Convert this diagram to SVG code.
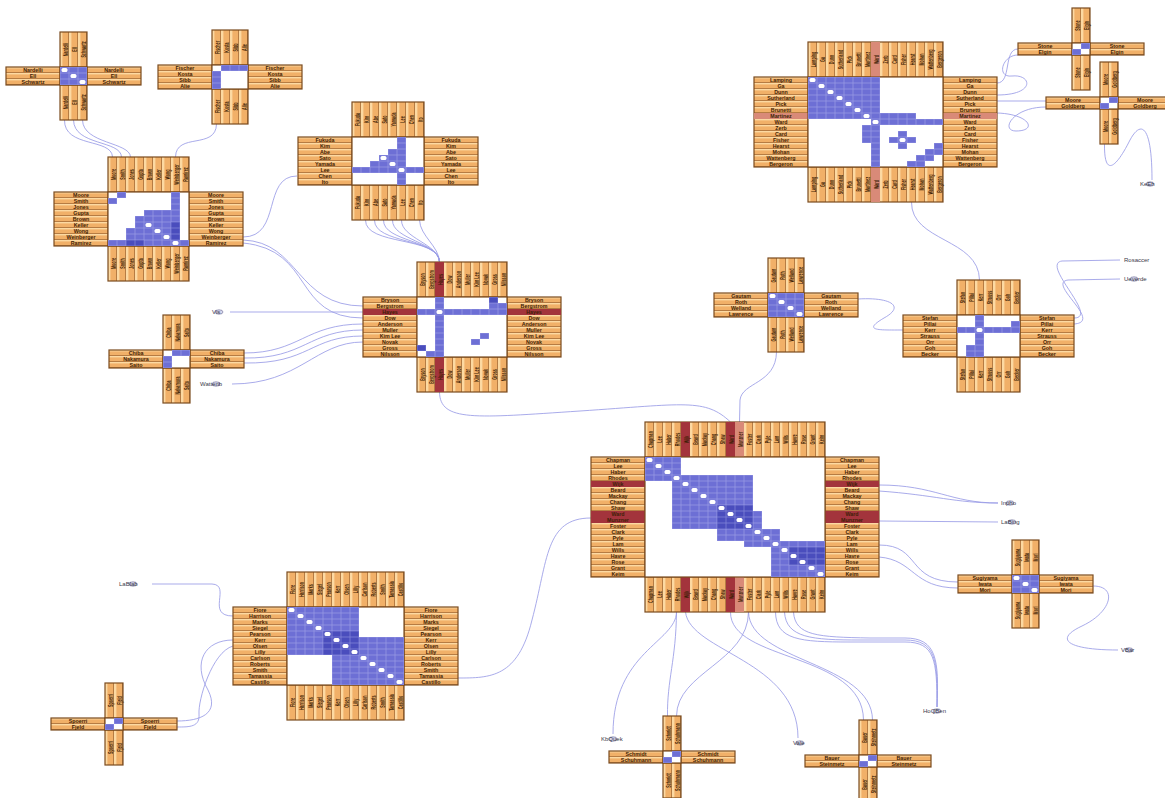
<svg xmlns="http://www.w3.org/2000/svg" xmlns:xlink="http://www.w3.org/1999/xlink" width="1165" height="798" viewBox="0 0 1165 798">
<style>
.ah{fill:url(#ph);stroke:#7b4b1f;stroke-width:1.2}
.av{fill:url(#pv);stroke:#7b4b1f;stroke-width:1.2}
.mx{fill:#fff;stroke:#7b4b1f;stroke-width:1.2}
.c{fill:url(#pc)}
.k{fill:url(#pk)}
.d{fill:#fff}
.rr{fill:#a3343c}
.rs{fill:#d98a78}
.lb{font-family:"Liberation Sans",Arial,sans-serif;font-size:5.3px;font-weight:bold;fill:#3e1f06;text-anchor:middle}
.e{fill:none;stroke:#9a9ce6;stroke-width:0.85}
.fl{font-family:"Liberation Sans",Arial,sans-serif;font-size:6px;fill:#3a3a4a}
.fe{fill:#d8d8ee;stroke:#6a6a90;stroke-width:0.6}
</style>
<defs>
<pattern id="ph" width="9" height="6" patternUnits="userSpaceOnUse"><rect width="9" height="6" fill="#f1b068"/><rect width="9" height="1.4" fill="#fcd9a2"/><rect y="5.4" width="9" height="0.6" fill="#8f5a2a"/></pattern>
<pattern id="pv" width="9" height="6" patternUnits="userSpaceOnUse"><rect width="9" height="6" fill="#f1b068"/><rect width="2.4" height="6" fill="#fcd9a2"/><rect x="8.4" width="0.6" height="6" fill="#8f5a2a"/></pattern>
<pattern id="pc" width="9" height="6" patternUnits="userSpaceOnUse"><rect width="9" height="6" fill="#9597e3"/><rect x="0.4" y="0.4" width="8.2" height="5.2" fill="#6d6fd5"/></pattern>
<pattern id="pk" width="9" height="6" patternUnits="userSpaceOnUse"><rect width="9" height="6" fill="#7f82d8"/><rect x="0.4" y="0.4" width="8.2" height="5.2" fill="#4a4dbd"/></pattern>
<g id="LA"><text y="5.1">Nardelli</text><text y="11.1">Ell</text><text y="17.1">Schwartz</text></g>
<g id="LB"><text y="5.1">Fischer</text><text y="11.1">Kosta</text><text y="17.1">Sibb</text><text y="23.1">Alie</text></g>
<g id="LC"><text y="5.1">Moore</text><text y="11.1">Smith</text><text y="17.1">Jones</text><text y="23.1">Gupta</text><text y="29.1">Brown</text><text y="35.1">Keller</text><text y="41.1">Wong</text><text y="47.1">Weinberger</text><text y="53.1">Ramirez</text></g>
<g id="LD"><text y="5.1">Fukuda</text><text y="11.1">Kim</text><text y="17.1">Abe</text><text y="23.1">Sato</text><text y="29.1">Yamada</text><text y="35.1">Lee</text><text y="41.1">Chen</text><text y="47.1">Ito</text></g>
<g id="LE"><text y="5.1">Bryson</text><text y="11.1">Bergstrom</text><text y="17.1">Hayes</text><text y="23.1">Dow</text><text y="29.1">Anderson</text><text y="35.1">Muller</text><text y="41.1">Kim Lee</text><text y="47.1">Novak</text><text y="53.1">Gross</text><text y="59.1">Nilsson</text></g>
<g id="LF"><text y="5.1">Chiba</text><text y="11.1">Nakamura</text><text y="17.1">Saito</text></g>
<g id="LG"><text y="5.1">Lamping</text><text y="11.1">Ga</text><text y="17.1">Dunn</text><text y="23.1">Sutherland</text><text y="29.1">Pick</text><text y="35.1">Brunetti</text><text y="41.1">Martinez</text><text y="47.1">Ward</text><text y="53.1">Zerb</text><text y="59.1">Card</text><text y="65.1">Fisher</text><text y="71.1">Hearst</text><text y="77.1">Mohan</text><text y="83.1">Wattenberg</text><text y="89.1">Bergeron</text></g>
<g id="LH1"><text y="5.1">Stone</text><text y="11.1">Elgin</text></g>
<g id="LH2"><text y="5.1">Moore</text><text y="11.1">Goldberg</text></g>
<g id="LI"><text y="5.1">Gautam</text><text y="11.1">Roth</text><text y="17.1">Welland</text><text y="23.1">Lawrence</text></g>
<g id="LJ"><text y="5.1">Stefan</text><text y="11.1">Pillai</text><text y="17.1">Kerr</text><text y="23.1">Strauss</text><text y="29.1">Orr</text><text y="35.1">Goh</text><text y="41.1">Becker</text></g>
<g id="LK"><text y="5.1">Chapman</text><text y="11.1">Lee</text><text y="17.1">Haber</text><text y="23.1">Rhodes</text><text y="29.1">Wijk</text><text y="35.1">Beard</text><text y="41.1">Mackay</text><text y="47.1">Chang</text><text y="53.1">Shaw</text><text y="59.1">Ward</text><text y="65.1">Munzner</text><text y="71.1">Foster</text><text y="77.1">Clark</text><text y="83.1">Pyle</text><text y="89.1">Lam</text><text y="95.1">Wills</text><text y="101.1">Havre</text><text y="107.1">Rose</text><text y="113.1">Grant</text><text y="119.1">Keim</text></g>
<g id="LL"><text y="5.1">Fiore</text><text y="11.1">Harrison</text><text y="17.1">Marks</text><text y="23.1">Siegel</text><text y="29.1">Pearson</text><text y="35.1">Kerr</text><text y="41.1">Olsen</text><text y="47.1">Lilly</text><text y="53.1">Carlson</text><text y="59.1">Roberts</text><text y="65.1">Smith</text><text y="71.1">Tamassia</text><text y="77.1">Castillo</text></g>
<g id="LM"><text y="5.1">Spoerri</text><text y="11.1">Fjeld</text></g>
<g id="LN"><text y="5.1">Schmidt</text><text y="11.1">Schuhmann</text></g>
<g id="LO"><text y="5.1">Bauer</text><text y="11.1">Steinmetz</text></g>
<g id="LP"><text y="5.1">Sugiyama</text><text y="11.1">Iwata</text><text y="17.1">Mori</text></g>
</defs>
<rect width="1165" height="798" fill="#fff"/>
<g id="edges">
<path class="e" d="M64.5,120 C64,148 112,138 112.5,157"/>
<path class="e" d="M73.5,120 C74,146 121,140 121.5,157"/>
<path class="e" d="M82.5,120 C83,144 130,142 130.5,157"/>
<path class="e" d="M216.5,124 C216,150 176,132 175.5,157"/>
<path class="e" d="M243,237 C282,237 262,176 297,176"/>
<path class="e" d="M243,240 C300,242 296,306 363,306"/>
<path class="e" d="M243,243 C315,250 292,318 363,318"/>
<path class="e" d="M365.5,220 C365,246 439,236 439.5,262"/>
<path class="e" d="M374.5,220 C374,244 439,238 439.5,262"/>
<path class="e" d="M383.5,220 C383,242 439,240 439.5,262"/>
<path class="e" d="M392.5,220 C392,240 439,242 439.5,262"/>
<path class="e" d="M401.5,220 C401,238 439,244 439.5,262"/>
<path class="e" d="M419.5,220 C420,236 439,246 439.5,262"/>
<path class="e" d="M230,312 L363,312"/>
<path class="e" d="M244,353 C300,353 305,324 363,324"/>
<path class="e" d="M244,358 C305,359 308,330 363,330"/>
<path class="e" d="M244,363 C310,364 310,336 363,336"/>
<path class="e" d="M232,384 C300,384 315,342 363,342"/>
<path class="e" d="M439.5,392 C440,422 475,418 580,411 S705,398 730.5,422"/>
<path class="e" d="M776.5,352 C776,384 742,382 740,400 L739.5,422"/>
<path class="e" d="M858,299 C890,297 906,306 884,318 C862,331 878,330 903,330"/>
<path class="e" d="M911.5,202 C911,242 979,238 979.5,280"/>
<path class="e" d="M997,83 C1012,83 1003,49 1018,49"/>
<path class="e" d="M997,95 C1036,95 1032,74 1012,76 C996,78 1002,55 1018,55"/>
<path class="e" d="M997,101 L1046,101"/>
<path class="e" d="M997,113 C1030,114 1038,131 1016,131 C1000,131 1012,107 1046,107"/>
<path class="e" d="M1104.5,144 C1104,178 1116,168 1130,140 C1142,118 1152,128 1152,180"/>
<path class="e" d="M1074,318 C1100,318 1040,264 1062,261 L1120,260"/>
<path class="e" d="M1074,324 C1104,322 1046,283 1068,280 L1120,279"/>
<path class="e" d="M591,518 C545,518 548,560 532,620 C518,678 490,678 458,678"/>
<path class="e" d="M879,485 C935,485 950,503 998,503"/>
<path class="e" d="M879,491 C935,495 955,503 998,503"/>
<path class="e" d="M879,521 L998,522"/>
<path class="e" d="M879,545 C922,545 905,582 958,582"/>
<path class="e" d="M879,557 C915,560 912,588 958,588"/>
<path class="e" d="M1093,586 C1118,586 1112,612 1082,626 C1052,640 1070,650 1118,650"/>
<path class="e" d="M676.5,612 C676,660 667,680 667.5,716"/>
<path class="e" d="M676.5,612 C676,642 613,652 613,734"/>
<path class="e" d="M685.5,612 C690,652 798,660 798,738"/>
<path class="e" d="M730.5,612 C730,662 863,652 863.5,720"/>
<path class="e" d="M748.5,612 C750,662 872,662 872.5,720"/>
<path class="e" d="M748.5,612 C748,662 677,672 676.5,716"/>
<path class="e" d="M775.5,612 C776,640 800,642 850,642 L905,642 C935,642 937,660 937,707"/>
<path class="e" d="M784.5,612 C786,638 812,640 860,640 L905,640 C936,640 938,660 937,707"/>
<path class="e" d="M793.5,612 C795,636 818,637 870,638 L905,638 C937,638 939,660 937,707"/>
<path class="e" d="M233,616 C205,616 232,585 212,584 L152,584"/>
<path class="e" d="M233,640 C205,640 192,662 208,690 C220,714 200,721 177,721"/>
<path class="e" d="M233,646 C212,652 198,700 199,714 C200,727 190,727 177,727"/>
</g>
<g id="nA" transform="translate(60,67)">
<rect class="ah" x="-54" width="54" height="18"/><rect class="ah" x="27" width="54" height="18"/><rect class="av" y="-35" width="27" height="35"/><rect class="av" y="18" width="27" height="35"/>
<rect class="mx" width="27" height="18"/><rect class="c" width="27" height="18"/>
<rect class="d" x="1.5" y="1" width="6" height="4" rx="1.5"/><rect class="d" x="10.5" y="7" width="6" height="4" rx="1.5"/><rect class="d" x="19.5" y="13" width="6" height="4" rx="1.5"/>
<g class="lb"><use href="#LA" x="-27"/><use href="#LA" x="54"/><use href="#LA" transform="matrix(0,-.7,1.5,0,0,-17.5)"/><use href="#LA" transform="matrix(0,-.7,1.5,0,0,35.5)"/></g>
</g>
<g id="nB" transform="translate(212,65)">
<rect class="ah" x="-54" width="54" height="24"/><rect class="ah" x="36" width="54" height="24"/><rect class="av" y="-35" width="36" height="35"/><rect class="av" y="24" width="36" height="35"/>
<rect class="mx" width="36" height="24"/><rect class="c" x="9" width="27" height="6"/><rect class="c" y="6" width="9" height="18"/>
<g class="lb"><use href="#LB" x="-27"/><use href="#LB" x="63"/><use href="#LB" transform="matrix(0,-.7,1.5,0,0,-17.5)"/><use href="#LB" transform="matrix(0,-.7,1.5,0,0,41.5)"/></g>
</g>
<g id="nC" transform="translate(108,192)">
<rect class="ah" x="-54" width="54" height="54"/><rect class="ah" x="81" width="54" height="54"/><rect class="av" y="-35" width="81" height="35"/><rect class="av" y="54" width="81" height="35"/>
<rect class="mx" width="81" height="54"/>
<rect class="c" x="9" width="9" height="6"/><rect class="c" y="6" width="9" height="6"/><rect class="c" x="63" width="9" height="54"/>
<rect class="c" x="36" y="18" width="27" height="6"/><rect class="c" x="27" y="24" width="36" height="12"/><rect class="c" x="18" y="36" width="45" height="12"/><rect class="c" y="48" width="81" height="6"/>
<rect class="k" x="63" y="30" width="9" height="18"/><rect class="k" x="18" y="48" width="18" height="6"/>
<rect class="d" x="1.5" y="1" width="6" height="4" rx="1.5"/><rect class="d" x="37.5" y="31" width="6" height="4" rx="1.5"/><rect class="d" x="46.5" y="37" width="6" height="4" rx="1.5"/><rect class="d" x="55.5" y="43" width="6" height="4" rx="1.5"/><rect class="d" x="64.5" y="49" width="6" height="4" rx="1.5"/>
<g class="lb"><use href="#LC" x="-27"/><use href="#LC" x="108"/><use href="#LC" transform="matrix(0,-.7,1.5,0,0,-17.5)"/><use href="#LC" transform="matrix(0,-.7,1.5,0,0,71.5)"/></g>
</g>
<g id="nD" transform="translate(352,137)">
<rect class="ah" x="-54" width="54" height="48"/><rect class="ah" x="72" width="54" height="48"/><rect class="av" y="-35" width="72" height="35"/><rect class="av" y="48" width="72" height="35"/>
<rect class="mx" width="72" height="48"/>
<rect class="c" y="30" width="72" height="6"/><rect class="c" x="45" width="9" height="48"/><rect class="c" x="36" y="12" width="9" height="6"/><rect class="c" x="27" y="18" width="18" height="6"/><rect class="c" x="18" y="24" width="27" height="6"/>
<rect class="d" x="28.5" y="19" width="6" height="4" rx="1.5"/><rect class="d" x="37.5" y="25" width="6" height="4" rx="1.5"/><rect class="d" x="46.5" y="31" width="6" height="4" rx="1.5"/>
<g class="lb"><use href="#LD" x="-27"/><use href="#LD" x="99"/><use href="#LD" transform="matrix(0,-.7,1.5,0,0,-17.5)"/><use href="#LD" transform="matrix(0,-.7,1.5,0,0,65.5)"/></g>
</g>
<g id="nE" transform="translate(417,297)">
<rect class="ah" x="-54" width="54" height="60"/><rect class="ah" x="90" width="54" height="60"/><rect class="av" y="-35" width="90" height="35"/><rect class="av" y="60" width="90" height="35"/>
<rect class="rr" x="18" y="-35" width="9" height="35"/><rect class="rr" x="18" y="60" width="9" height="35"/><rect class="rr" x="-54" y="12" width="54" height="6"/><rect class="rr" x="90" y="12" width="54" height="6"/>
<rect class="mx" width="90" height="60"/>
<rect class="c" y="12" width="90" height="6"/><rect class="c" x="18" width="9" height="60"/><rect class="k" x="72" width="9" height="6"/><rect class="c" x="72" y="6" width="18" height="6"/><rect class="k" y="48" width="9" height="6"/><rect class="c" x="9" y="54" width="9" height="6"/><rect class="c" x="63" y="36" width="9" height="6"/><rect class="c" x="54" y="42" width="9" height="6"/>
<rect class="d" x="19.5" y="13" width="6" height="4" rx="1.5"/><rect class="d" x="1.5" y="55" width="6" height="4" rx="1.5"/>
<g class="lb"><use href="#LE" x="-27"/><use href="#LE" x="117"/><use href="#LE" transform="matrix(0,-.7,1.5,0,0,-17.5)"/><use href="#LE" transform="matrix(0,-.7,1.5,0,0,77.5)"/></g>
</g>
<g id="nF" transform="translate(163,350)">
<rect class="ah" x="-54" width="54" height="18"/><rect class="ah" x="27" width="54" height="18"/><rect class="av" y="-35" width="27" height="35"/><rect class="av" y="18" width="27" height="35"/>
<rect class="mx" width="27" height="18"/><rect class="c" x="9" width="18" height="6"/><rect class="c" y="6" width="9" height="12"/>
<g class="lb"><use href="#LF" x="-27"/><use href="#LF" x="54"/><use href="#LF" transform="matrix(0,-.7,1.5,0,0,-17.5)"/><use href="#LF" transform="matrix(0,-.7,1.5,0,0,35.5)"/></g>
</g>
<g id="nG" transform="translate(808,77)">
<rect class="ah" x="-54" width="54" height="90"/><rect class="ah" x="135" width="54" height="90"/><rect class="av" y="-35" width="135" height="35"/><rect class="av" y="90" width="135" height="35"/>
<rect class="rs" x="63" y="-35" width="9" height="35"/><rect class="rs" x="63" y="90" width="9" height="35"/><rect class="rs" x="-54" y="36" width="54" height="6"/><rect class="rs" x="135" y="36" width="54" height="6"/>
<rect class="mx" width="135" height="90"/>
<rect class="c" width="72" height="42"/><rect class="c" x="63" y="42" width="9" height="6"/><rect class="c" x="72" y="36" width="36" height="12"/><rect class="c" x="108" y="42" width="27" height="6"/><rect class="c" x="54" y="48" width="18" height="18"/><rect class="c" x="63" y="66" width="9" height="24"/>
<rect class="c" x="90" y="54" width="9" height="6"/><rect class="c" x="81" y="60" width="27" height="6"/><rect class="c" x="90" y="66" width="9" height="6"/><rect class="d" x="91.5" y="61" width="6" height="4" rx="1.5"/>
<rect class="c" x="126" y="66" width="9" height="6"/><rect class="c" x="117" y="72" width="18" height="6"/><rect class="c" x="108" y="78" width="18" height="6"/><rect class="c" x="99" y="84" width="18" height="6"/>
<rect class="d" x="1.5" y="1" width="6" height="4" rx="1.5"/><rect class="d" x="10.5" y="7" width="6" height="4" rx="1.5"/><rect class="d" x="19.5" y="13" width="6" height="4" rx="1.5"/><rect class="d" x="28.5" y="19" width="6" height="4" rx="1.5"/><rect class="d" x="37.5" y="25" width="6" height="4" rx="1.5"/><rect class="d" x="46.5" y="31" width="6" height="4" rx="1.5"/><rect class="d" x="55.5" y="37" width="6" height="4" rx="1.5"/><rect class="d" x="64.5" y="43" width="6" height="4" rx="1.5"/>
<g class="lb"><use href="#LG" x="-27"/><use href="#LG" x="162"/><use href="#LG" transform="matrix(0,-.7,1.5,0,0,-17.5)"/><use href="#LG" transform="matrix(0,-.7,1.5,0,0,107.5)"/></g>
</g>
<g id="nH1" transform="translate(1072,43)">
<rect class="ah" x="-54" width="54" height="12"/><rect class="ah" x="18" width="54" height="12"/><rect class="av" y="-35" width="18" height="35"/><rect class="av" y="12" width="18" height="35"/>
<rect class="mx" width="18" height="12"/><rect class="c" x="9" width="9" height="6"/><rect class="c" y="6" width="9" height="6"/>
<g class="lb"><use href="#LH1" x="-27"/><use href="#LH1" x="45"/><use href="#LH1" transform="matrix(0,-.7,1.5,0,0,-17.5)"/><use href="#LH1" transform="matrix(0,-.7,1.5,0,0,29.5)"/></g>
</g>
<g id="nH2" transform="translate(1100,97)">
<rect class="ah" x="-54" width="54" height="12"/><rect class="ah" x="18" width="54" height="12"/><rect class="av" y="-35" width="18" height="35"/><rect class="av" y="12" width="18" height="35"/>
<rect class="mx" width="18" height="12"/><rect class="c" x="9" width="9" height="6"/><rect class="c" y="6" width="9" height="6"/>
<g class="lb"><use href="#LH2" x="-27"/><use href="#LH2" x="45"/><use href="#LH2" transform="matrix(0,-.7,1.5,0,0,-17.5)"/><use href="#LH2" transform="matrix(0,-.7,1.5,0,0,29.5)"/></g>
</g>
<g id="nI" transform="translate(768,293)">
<rect class="ah" x="-54" width="54" height="24"/><rect class="ah" x="36" width="54" height="24"/><rect class="av" y="-35" width="36" height="35"/><rect class="av" y="24" width="36" height="35"/>
<rect class="mx" width="36" height="24"/><rect class="c" width="36" height="24"/>
<rect class="d" x="1.5" y="1" width="6" height="4" rx="1.5"/><rect class="d" x="10.5" y="7" width="6" height="4" rx="1.5"/><rect class="d" x="19.5" y="13" width="6" height="4" rx="1.5"/><rect class="d" x="28.5" y="19" width="6" height="4" rx="1.5"/>
<g class="lb"><use href="#LI" x="-27"/><use href="#LI" x="63"/><use href="#LI" transform="matrix(0,-.7,1.5,0,0,-17.5)"/><use href="#LI" transform="matrix(0,-.7,1.5,0,0,41.5)"/></g>
</g>
<g id="nJ" transform="translate(957,315)">
<rect class="ah" x="-54" width="54" height="42"/><rect class="ah" x="63" width="54" height="42"/><rect class="av" y="-35" width="63" height="35"/><rect class="av" y="42" width="63" height="35"/>
<rect class="mx" width="63" height="42"/>
<rect class="c" y="12" width="63" height="6"/><rect class="c" x="18" width="9" height="42"/><rect class="c" x="54" y="6" width="9" height="6"/><rect class="c" x="9" y="30" width="9" height="12"/>
<rect class="d" x="19.5" y="13" width="6" height="4" rx="1.5"/>
<g class="lb"><use href="#LJ" x="-27"/><use href="#LJ" x="90"/><use href="#LJ" transform="matrix(0,-.7,1.5,0,0,-17.5)"/><use href="#LJ" transform="matrix(0,-.7,1.5,0,0,59.5)"/></g>
</g>
<g id="nK" transform="translate(645,457)">
<rect class="ah" x="-54" width="54" height="120"/><rect class="ah" x="180" width="54" height="120"/><rect class="av" y="-35" width="180" height="35"/><rect class="av" y="120" width="180" height="35"/>
<rect class="rr" x="36" y="-35" width="9" height="35"/><rect class="rr" x="36" y="120" width="9" height="35"/><rect class="rr" x="81" y="-35" width="9" height="35"/><rect class="rr" x="81" y="120" width="9" height="35"/><rect class="rs" x="90" y="-35" width="9" height="35"/><rect class="rs" x="90" y="120" width="9" height="35"/>
<rect class="rr" x="-54" y="24" width="54" height="6"/><rect class="rr" x="180" y="24" width="54" height="6"/><rect class="rr" x="-54" y="54" width="54" height="12"/><rect class="rr" x="180" y="54" width="54" height="12"/>
<rect class="mx" width="180" height="120"/>
<rect class="c" width="36" height="24"/><rect class="c" x="36" y="18" width="72" height="6"/><rect class="c" x="27" y="24" width="81" height="30"/><rect class="c" x="27" y="54" width="90" height="18"/><rect class="c" x="72" y="72" width="63" height="12"/><rect class="c" x="99" y="84" width="27" height="6"/><rect class="c" x="126" y="84" width="54" height="36"/>
<rect class="k" x="72" y="48" width="36" height="24"/><rect class="k" x="144" y="90" width="36" height="18"/>
<rect class="d" x="1.5" y="1" width="6" height="4" rx="1.5"/><rect class="d" x="10.5" y="7" width="6" height="4" rx="1.5"/><rect class="d" x="19.5" y="13" width="6" height="4" rx="1.5"/><rect class="d" x="28.5" y="19" width="6" height="4" rx="1.5"/><rect class="d" x="37.5" y="25" width="6" height="4" rx="1.5"/><rect class="d" x="46.5" y="31" width="6" height="4" rx="1.5"/><rect class="d" x="55.5" y="37" width="6" height="4" rx="1.5"/><rect class="d" x="64.5" y="43" width="6" height="4" rx="1.5"/><rect class="d" x="73.5" y="49" width="6" height="4" rx="1.5"/><rect class="d" x="82.5" y="55" width="6" height="4" rx="1.5"/><rect class="d" x="91.5" y="61" width="6" height="4" rx="1.5"/><rect class="d" x="100.5" y="67" width="6" height="4" rx="1.5"/><rect class="d" x="109.5" y="73" width="6" height="4" rx="1.5"/><rect class="d" x="118.5" y="79" width="6" height="4" rx="1.5"/><rect class="d" x="127.5" y="85" width="6" height="4" rx="1.5"/><rect class="d" x="136.5" y="91" width="6" height="4" rx="1.5"/><rect class="d" x="145.5" y="97" width="6" height="4" rx="1.5"/><rect class="d" x="154.5" y="103" width="6" height="4" rx="1.5"/><rect class="d" x="163.5" y="109" width="6" height="4" rx="1.5"/><rect class="d" x="172.5" y="115" width="6" height="4" rx="1.5"/>
<g class="lb"><use href="#LK" x="-27"/><use href="#LK" x="207"/><use href="#LK" transform="matrix(0,-.7,1.5,0,0,-17.5)"/><use href="#LK" transform="matrix(0,-.7,1.5,0,0,137.5)"/></g>
</g>
<g id="nL" transform="translate(287,607)">
<rect class="ah" x="-54" width="54" height="78"/><rect class="ah" x="117" width="54" height="78"/><rect class="av" y="-35" width="117" height="35"/><rect class="av" y="78" width="117" height="35"/>
<rect class="mx" width="117" height="78"/>
<rect class="c" width="72" height="30"/><rect class="c" y="30" width="117" height="18"/><rect class="c" x="45" y="48" width="72" height="30"/><rect class="k" x="36" y="24" width="36" height="24"/>
<rect class="d" x="1.5" y="1" width="6" height="4" rx="1.5"/><rect class="d" x="10.5" y="7" width="6" height="4" rx="1.5"/><rect class="d" x="19.5" y="13" width="6" height="4" rx="1.5"/><rect class="d" x="28.5" y="19" width="6" height="4" rx="1.5"/><rect class="d" x="37.5" y="25" width="6" height="4" rx="1.5"/><rect class="d" x="46.5" y="31" width="6" height="4" rx="1.5"/><rect class="d" x="55.5" y="37" width="6" height="4" rx="1.5"/><rect class="d" x="64.5" y="43" width="6" height="4" rx="1.5"/><rect class="d" x="73.5" y="49" width="6" height="4" rx="1.5"/><rect class="d" x="82.5" y="55" width="6" height="4" rx="1.5"/><rect class="d" x="91.5" y="61" width="6" height="4" rx="1.5"/><rect class="d" x="100.5" y="67" width="6" height="4" rx="1.5"/><rect class="d" x="109.5" y="73" width="6" height="4" rx="1.5"/>
<g class="lb"><use href="#LL" x="-27"/><use href="#LL" x="144"/><use href="#LL" transform="matrix(0,-.7,1.5,0,0,-17.5)"/><use href="#LL" transform="matrix(0,-.7,1.5,0,0,95.5)"/></g>
</g>
<g id="nM" transform="translate(105,718)">
<rect class="ah" x="-54" width="54" height="12"/><rect class="ah" x="18" width="54" height="12"/><rect class="av" y="-35" width="18" height="35"/><rect class="av" y="12" width="18" height="35"/>
<rect class="mx" width="18" height="12"/><rect class="c" x="9" width="9" height="6"/><rect class="c" y="6" width="9" height="6"/>
<g class="lb"><use href="#LM" x="-27"/><use href="#LM" x="45"/><use href="#LM" transform="matrix(0,-.7,1.5,0,0,-17.5)"/><use href="#LM" transform="matrix(0,-.7,1.5,0,0,29.5)"/></g>
</g>
<g id="nN" transform="translate(663,751)">
<rect class="ah" x="-54" width="54" height="12"/><rect class="ah" x="18" width="54" height="12"/><rect class="av" y="-35" width="18" height="35"/><rect class="av" y="12" width="18" height="35"/>
<rect class="mx" width="18" height="12"/><rect class="c" x="9" width="9" height="6"/><rect class="c" y="6" width="9" height="6"/>
<g class="lb"><use href="#LN" x="-27"/><use href="#LN" x="45"/><use href="#LN" transform="matrix(0,-.7,1.5,0,0,-17.5)"/><use href="#LN" transform="matrix(0,-.7,1.5,0,0,29.5)"/></g>
</g>
<g id="nO" transform="translate(859,755)">
<rect class="ah" x="-54" width="54" height="12"/><rect class="ah" x="18" width="54" height="12"/><rect class="av" y="-35" width="18" height="35"/><rect class="av" y="12" width="18" height="35"/>
<rect class="mx" width="18" height="12"/><rect class="c" x="9" width="9" height="6"/><rect class="c" y="6" width="9" height="6"/>
<g class="lb"><use href="#LO" x="-27"/><use href="#LO" x="45"/><use href="#LO" transform="matrix(0,-.7,1.5,0,0,-17.5)"/><use href="#LO" transform="matrix(0,-.7,1.5,0,0,29.5)"/></g>
</g>
<g id="nP" transform="translate(1012,575)">
<rect class="ah" x="-54" width="54" height="18"/><rect class="ah" x="27" width="54" height="18"/><rect class="av" y="-35" width="27" height="35"/><rect class="av" y="18" width="27" height="35"/>
<rect class="mx" width="27" height="18"/><rect class="c" width="27" height="18"/>
<rect class="d" x="1.5" y="1" width="6" height="4" rx="1.5"/><rect class="d" x="10.5" y="7" width="6" height="4" rx="1.5"/><rect class="d" x="19.5" y="13" width="6" height="4" rx="1.5"/>
<g class="lb"><use href="#LP" x="-27"/><use href="#LP" x="54"/><use href="#LP" transform="matrix(0,-.7,1.5,0,0,-17.5)"/><use href="#LP" transform="matrix(0,-.7,1.5,0,0,35.5)"/></g>
</g>
<g id="fVis"><ellipse class="fe" cx="219" cy="312" rx="4" ry="2.2"/><text class="fl" x="212" y="314">Vis</text></g>
<g id="fWattenb"><ellipse class="fe" cx="216" cy="384" rx="4" ry="2.2"/><text class="fl" x="200" y="386">Wattenb</text></g>
<g id="fLaBlab"><ellipse class="fe" cx="133" cy="584" rx="4" ry="2.2"/><text class="fl" x="119" y="586">LaBlab</text></g>
<g id="fInpho"><ellipse class="fe" cx="1010" cy="503" rx="4" ry="2.2"/><text class="fl" x="1001" y="505">Inpho</text></g>
<g id="fLaBing"><ellipse class="fe" cx="1012" cy="522" rx="4" ry="2.2"/><text class="fl" x="1001" y="524">LaBing</text></g>
<g id="fVBar"><ellipse class="fe" cx="1129" cy="650" rx="4" ry="2.2"/><text class="fl" x="1121" y="652">VBar</text></g>
<g id="fKbQuek"><ellipse class="fe" cx="613" cy="739" rx="4" ry="2.2"/><text class="fl" x="601" y="741">KbQuek</text></g>
<g id="fVale"><ellipse class="fe" cx="800" cy="743" rx="4" ry="2.2"/><text class="fl" x="793" y="745">Vale</text></g>
<g id="fHoQBen"><ellipse class="fe" cx="937" cy="711" rx="4" ry="2.2"/><text class="fl" x="923" y="713">HoQBen</text></g>
<g id="fRosaccer"><text class="fl" x="1124" y="262">Rosaccer</text></g>
<g id="fUeverde"><ellipse class="fe" cx="1134" cy="279" rx="4" ry="2.2"/><text class="fl" x="1124" y="281">Ueverde</text></g>
<g id="fKeEh"><ellipse class="fe" cx="1150" cy="184" rx="4" ry="2.2"/><text class="fl" x="1140" y="186">KeEh</text></g>
</svg>
